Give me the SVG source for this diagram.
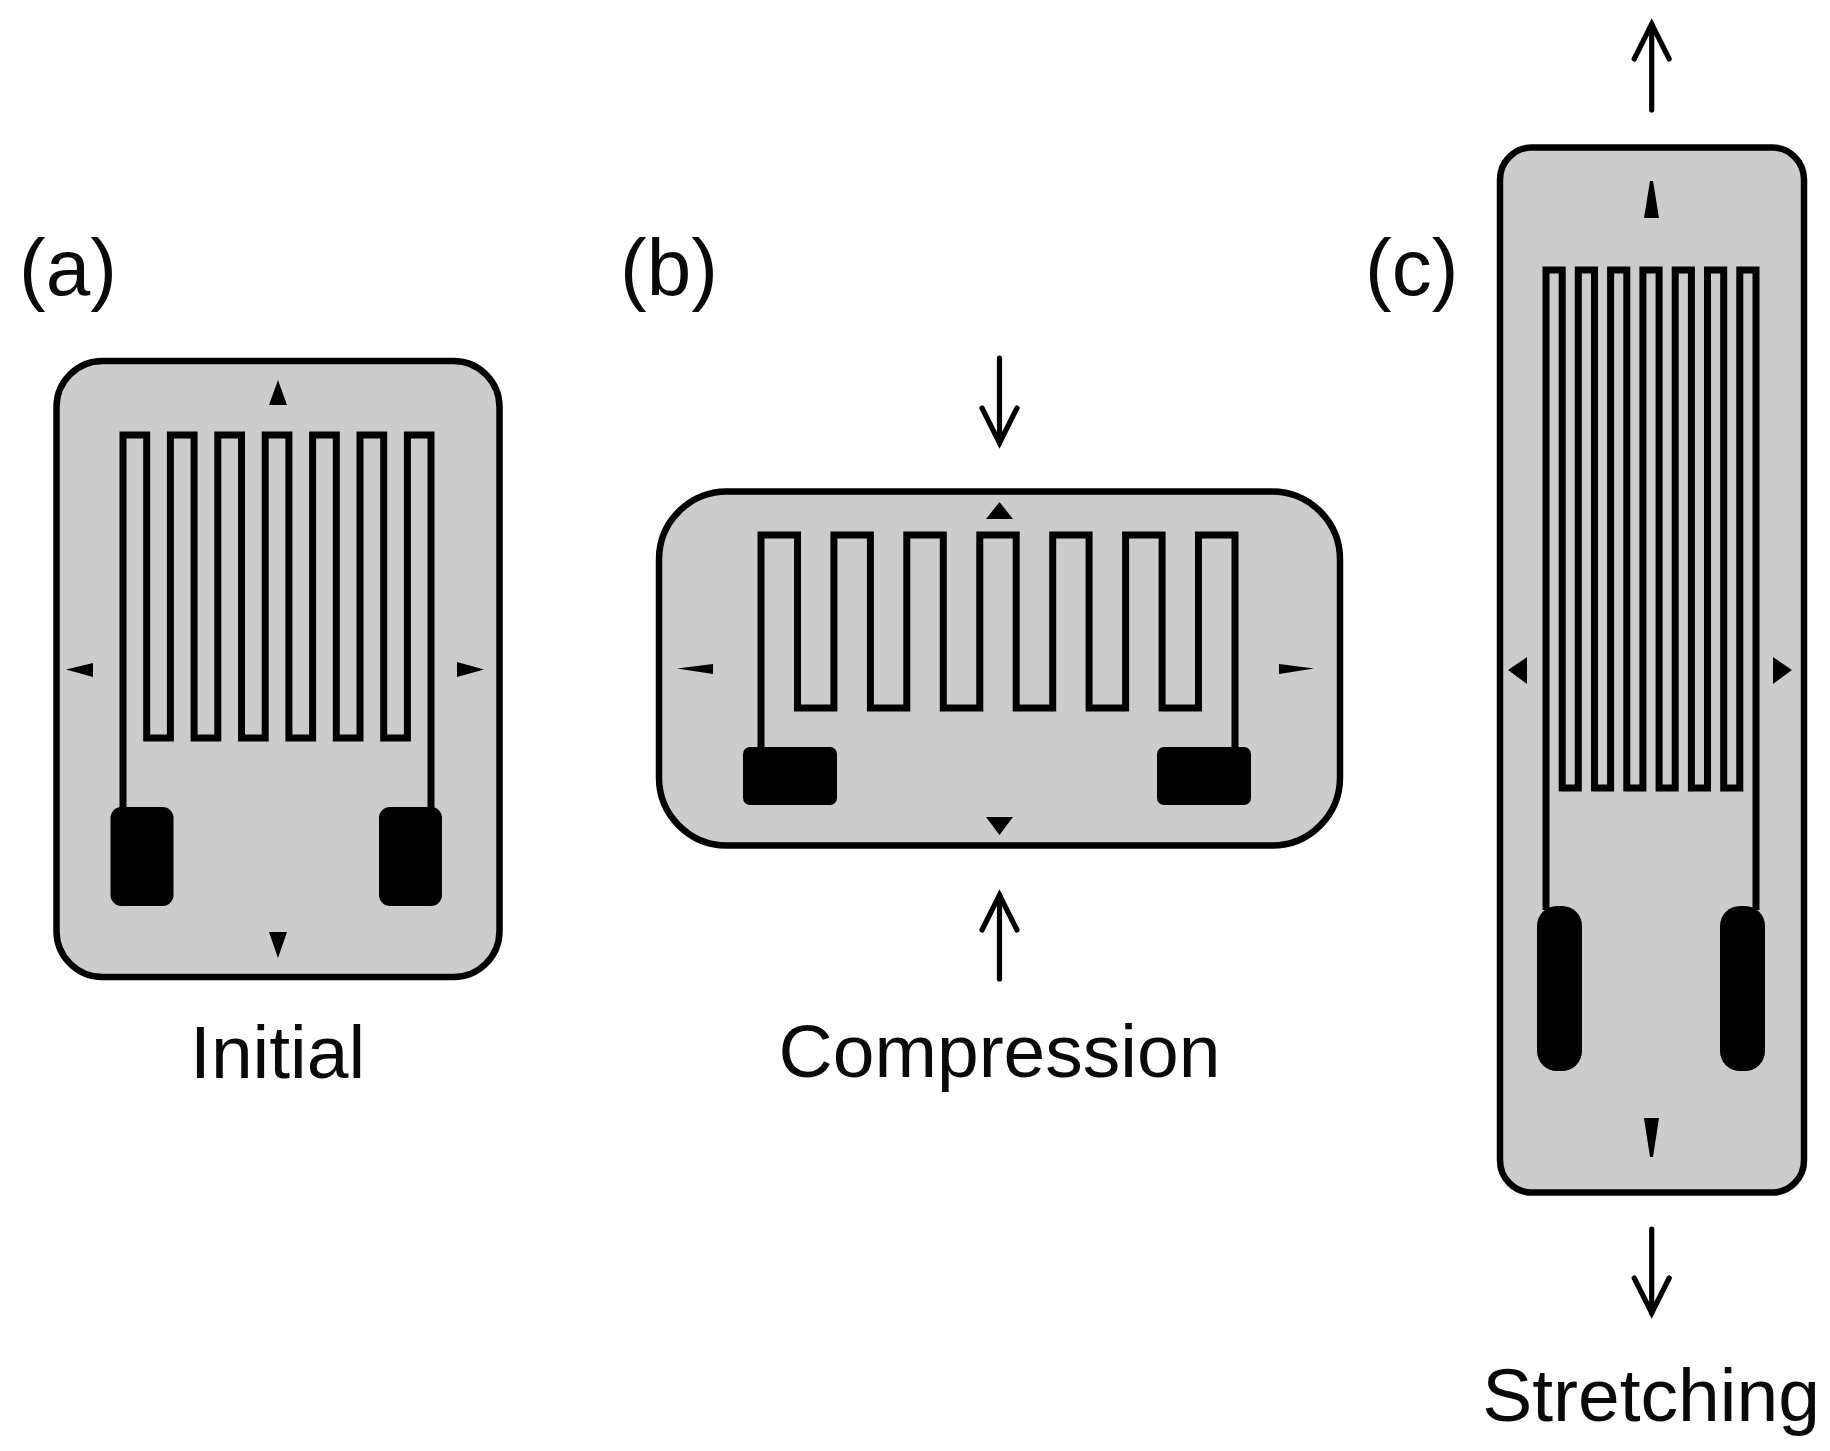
<svg xmlns="http://www.w3.org/2000/svg" width="1830" height="1451" viewBox="0 0 1830 1451">
<style>
text{font-family:"Liberation Sans",Arial,sans-serif;font-size:75px;fill:#0a0a0a}
.tag{font-size:80px}
.m{text-anchor:middle}
.body{fill:#ccc;stroke:#000;stroke-width:6.5}
.grid{fill:none;stroke:#000;stroke-width:7;stroke-linejoin:miter}
.pad{fill:#000}
.force{fill:none;stroke:#000;stroke-width:5.2;stroke-linecap:round;marker-end:url(#open)}
</style>
<defs>
<marker id="open" markerUnits="userSpaceOnUse" viewBox="-42 -24 50 48" refX="0" refY="0" markerWidth="50" markerHeight="48" orient="auto">
<path d="M-35 -17.5L0 0L-35 17.5" fill="none" stroke="#000" stroke-width="5.2" stroke-linecap="round"/>
</marker>
</defs>
<rect width="1830" height="1451" fill="#fff"/>
<g id="panel-a">
<rect class="body" x="56.5" y="361" width="443" height="616" rx="46"/>
<path class="grid" d="M123 810V435H146.7V738H170.4V435H194.1V738H217.8V435H241.5V738H265.2V435H288.9V738H312.6V435H336.3V738H360V435H383.7V738H407.4V435H431V810"/>
<rect class="pad" x="110.500" y="807" width="63" height="99" rx="11"/>
<rect class="pad" x="379" y="807" width="63" height="99" rx="11"/>
<polygon points="278,380 269,405 287,405"/>
<polygon points="269,932 287,932 278,958"/>
<polygon points="66,669.500 93,663 93,677"/>
<polygon points="457,662 484,669.500 457,677"/>
<text class="tag" x="19" y="295">(a)</text>
<text class="m" x="277.600" y="1078">Initial</text>
</g>
<g id="panel-b">
<rect class="body" x="659" y="491.500" width="681" height="354" rx="68"/>
<path class="grid" d="M761 750V535H797.500V708H833.900V535H870.400V708H906.800V535H943.300V708H979.800V535H1016.200V708H1052.700V535H1089.100V708H1125.600V535H1162.100V708H1198.500V535H1235V750"/>
<rect class="pad" x="743" y="747" width="94" height="58" rx="7"/>
<rect class="pad" x="1157" y="747" width="94" height="58" rx="7"/>
<polygon points="999.500,502 986,519 1013,519"/>
<polygon points="986,817 1013,817 999.500,835"/>
<polygon points="677,668.500 713,664 713,674"/>
<polygon points="1279,664 1314,668.500 1279,674"/>
<text class="tag" x="620" y="295">(b)</text>
<text class="m" x="999.500" y="1077">Compression</text>
</g>
<g id="panel-c">
<rect class="body" x="1500" y="147.500" width="304" height="1045" rx="32"/>
<path class="grid" d="M1546 910V270H1562.200V788H1578.300V270H1594.500V788H1610.600V270H1626.800V788H1642.900V270H1659.100V788H1675.200V270H1691.400V788H1707.500V270H1723.700V788H1739.800V270H1756V910"/>
<rect class="pad" x="1537" y="906" width="45" height="165" rx="20"/>
<rect class="pad" x="1720" y="906" width="45" height="165" rx="20"/>
<polygon points="1650,181 1653,181 1659,218 1644,218"/>
<polygon points="1644,1118 1659,1118 1653,1157 1650,1157"/>
<polygon points="1508,670 1527,657 1527,684"/>
<polygon points="1773,657 1792,670 1773,684"/>
<text class="tag" x="1365" y="295">(c)</text>
<text class="m" x="1651" y="1421">Stretching</text>
</g>
<g id="connectors">
<path class="force" d="M999.500 358V443"/>
<path class="force" d="M999.500 979V895"/>
<path class="force" d="M1651.700 110V24"/>
<path class="force" d="M1651.700 1229V1313"/>
</g>
</svg>
